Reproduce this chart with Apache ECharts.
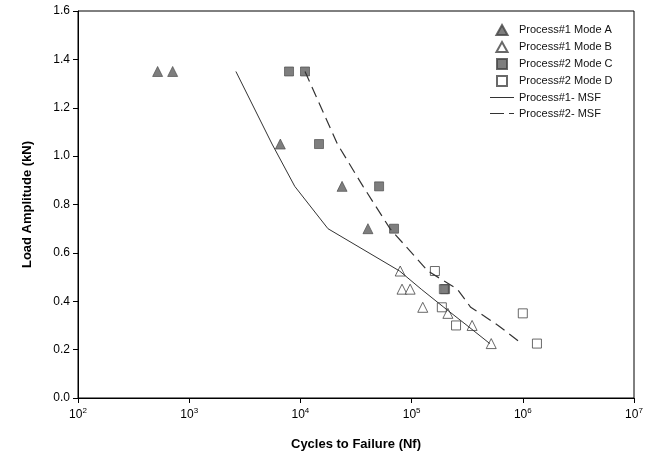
<!DOCTYPE html>
<html>
<head>
<meta charset="utf-8">
<script src="https://cdn.jsdelivr.net/npm/echarts@6/dist/echarts.min.js"></script>
<style>
  html, body { margin: 0; padding: 0; background: #fff; }
  #chart { width: 669px; height: 463px; }
</style>
</head>
<body>
<div id="chart"></div>
<script>
// cycles to failure (Nf) and load amplitude (kN)
const MODE_A_N = [520, 710, 6600, 23700, 40500];
const MODE_A_LOAD = [1.35, 1.35, 1.05, 0.875, 0.7];

const MODE_B_N = [79000, 82000, 97000, 126000, 212000, 350000, 520000];
const MODE_B_LOAD = [0.525, 0.45, 0.45, 0.375, 0.35, 0.3, 0.225];

const MODE_C_N = [7900, 11000, 14700, 51000, 69500, 200000];
const MODE_C_LOAD = [1.35, 1.35, 1.05, 0.875, 0.7, 0.45];

const MODE_D_N = [162000, 195000, 187000, 251000, 1000000, 1340000];
const MODE_D_LOAD = [0.525, 0.45, 0.375, 0.3, 0.35, 0.225];

const MSF1_N = [2630, 5560, 8900, 17700, 78000, 122000, 195000, 315000, 505000];
const MSF1_LOAD = [1.35, 1.05, 0.875, 0.7, 0.525, 0.45, 0.375, 0.3, 0.225];

const MSF2_N = [11000, 21500, 36600, 64000, 140000, 258000, 340000, 480000, 600000, 980000];
const MSF2_LOAD = [1.35, 1.05, 0.875, 0.7, 0.525, 0.45, 0.375, 0.33, 0.3, 0.225];

const Y_TICKS = [0, 0.2, 0.4, 0.6, 0.8, 1.0, 1.2, 1.4, 1.6];

const pairs = (xs, ys) => xs.map((x, i) => [x, ys[i]]);

const chart = echarts.init(document.getElementById('chart'), null, { renderer: 'canvas' });

const FONT = 'Liberation Sans, Arial, sans-serif';

// legend icons as paths so they keep their aspect ratio
const TRI_ICON = 'path://M5,0 L10,9 L0,9 Z';
const SQ_ICON = 'path://M0,0 H9 V9 H0 Z';
const SOLID_ICON = 'path://M0,0 H24 V1 H0 Z';
const DASH_ICON = 'path://M0,0 H14 V1 H0 Z M19,0 H24 V1 H19 Z';

chart.setOption({
  animation: false,
  backgroundColor: '#fff',
  textStyle: { fontFamily: FONT },
  grid: {
    left: 78, right: 35, top: 11, bottom: 65,
    show: true, borderColor: '#000', borderWidth: 1,
  },
  legend: {
    orient: 'vertical',
    left: 485,
    top: 19,
    itemWidth: 24,
    itemHeight: 10,
    itemGap: 5,
    symbolKeepAspect: true,
    textStyle: { fontFamily: FONT, fontSize: 11, color: '#111' },
    data: [
      { name: 'Process#1 Mode A', icon: TRI_ICON },
      { name: 'Process#1 Mode B', icon: TRI_ICON },
      { name: 'Process#2 Mode C', icon: SQ_ICON },
      { name: 'Process#2 Mode D', icon: SQ_ICON },
      { name: 'Process#1- MSF', icon: SOLID_ICON },
      { name: 'Process#2- MSF', icon: DASH_ICON },
    ],
  },
  xAxis: {
    type: 'log',
    logBase: 10,
    min: 100,
    max: 10000000,
    name: 'Cycles to Failure (Nf)',
    nameLocation: 'middle',
    nameGap: 40,
    nameTextStyle: { fontFamily: FONT, fontSize: 13, fontWeight: 'bold', color: '#000' },
    axisLine: { onZero: false, lineStyle: { color: '#000' } },
    axisTick: { inside: false, length: 5, lineStyle: { color: '#000' } },
    minorTick: { show: false },
    splitLine: { show: false },
    axisLabel: {
      margin: 9,
      color: '#000',
      fontSize: 12,
      formatter: v => '10{sup|' + Math.round(Math.log10(v)) + '}',
      rich: {
        sup: { fontSize: 8, padding: [0, 0, 7, 0], color: '#000' },
      },
    },
  },
  yAxis: {
    type: 'value',
    min: 0,
    max: 1.6,
    interval: 0.2,
    name: 'Load Amplitude (kN)',
    nameLocation: 'middle',
    nameGap: 44,
    nameTextStyle: { fontFamily: FONT, fontSize: 13, fontWeight: 'bold', color: '#000' },
    axisLine: { show: true, lineStyle: { color: '#000' } },
    axisTick: { show: true, inside: false, length: 5, lineStyle: { color: '#000' } },
    splitLine: { show: false },
    axisLabel: {
      margin: 8,
      color: '#000',
      fontSize: 12,
      formatter: v => Y_TICKS.includes(+v.toFixed(1)) ? v.toFixed(1) : '',
    },
  },
  series: [
    {
      name: 'Process#1- MSF',
      type: 'line',
      data: pairs(MSF1_N, MSF1_LOAD),
      symbol: 'none',
      lineStyle: { color: '#333', width: 1 },
      itemStyle: { color: '#333' },
    },
    {
      name: 'Process#2- MSF',
      type: 'line',
      data: pairs(MSF2_N, MSF2_LOAD),
      symbol: 'none',
      lineStyle: { color: '#333', width: 1.2, type: [11, 6] },
      itemStyle: { color: '#333' },
    },
    {
      name: 'Process#1 Mode A',
      type: 'scatter',
      data: pairs(MODE_A_N, MODE_A_LOAD),
      symbol: 'triangle',
      symbolSize: 10,
      itemStyle: { color: '#5e5e5e', borderColor: '#444', borderWidth: 0.8 },
    },
    {
      name: 'Process#1 Mode B',
      type: 'scatter',
      data: pairs(MODE_B_N, MODE_B_LOAD),
      symbol: 'triangle',
      symbolSize: 10,
      itemStyle: { color: '#fff', borderColor: '#444', borderWidth: 1 },
    },
    {
      name: 'Process#2 Mode C',
      type: 'scatter',
      data: pairs(MODE_C_N, MODE_C_LOAD),
      symbol: 'rect',
      symbolSize: 9,
      itemStyle: { color: '#5e5e5e', borderColor: '#444', borderWidth: 0.8 },
    },
    {
      name: 'Process#2 Mode D',
      type: 'scatter',
      data: pairs(MODE_D_N, MODE_D_LOAD),
      symbol: 'rect',
      symbolSize: 9,
      itemStyle: { color: 'rgba(255,255,255,0)', borderColor: '#444', borderWidth: 1 },
    },
  ],
});
</script>
</body>
</html>
